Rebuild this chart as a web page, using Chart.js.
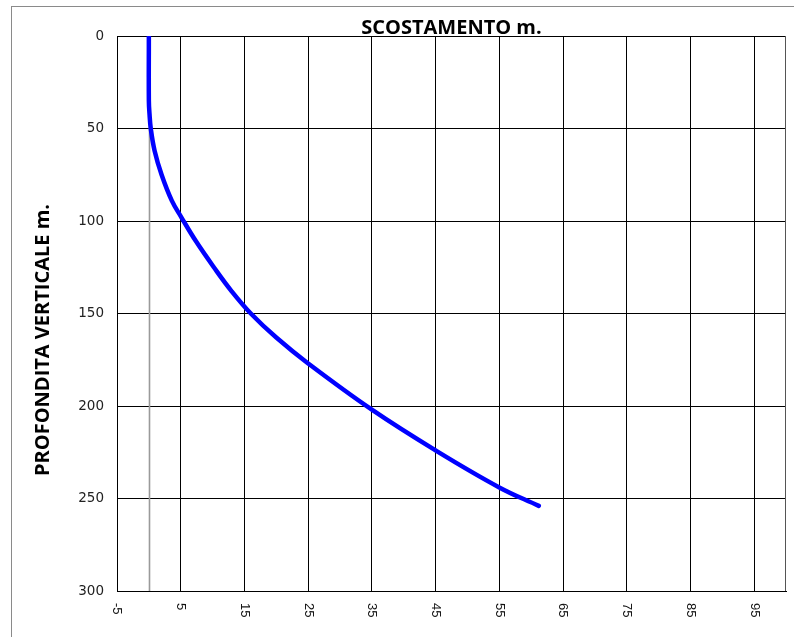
<!DOCTYPE html>
<html>
<head>
<meta charset="utf-8">
<script src="https://cdn.jsdelivr.net/npm/chart.js@4/dist/chart.umd.min.js"></script>
<style>
  html, body { margin: 0; padding: 0; background: #fff; }
  #wrap { width: 794px; height: 637px; position: relative; }
</style>
</head>
<body>
<div id="wrap"><canvas id="profileChart"></canvas></div>
<script>
// depth (m) and horizontal offset (m)
var depths  = [0, 35, 42, 50, 62, 75, 89, 98, 111, 125, 138, 150, 163, 177, 202, 224, 244, 254];
var offsets = [0, 0, 0.1, 0.3, 0.9, 2.0, 3.6, 5.1, 7.4, 10.2, 13.0, 16.0, 20.0, 25, 35, 45, 55, 61.2];
var xTicks  = [-5, 5, 15, 25, 35, 45, 55, 65, 75, 85, 95];
var yTicks  = [0, 50, 100, 150, 200, 250, 300];

var xTitle = "SCOSTAMENTO m.";
var yTitle = "PROFONDITA VERTICALE m.";

var points = depths.map(function (d, i) { return { x: offsets[i], y: d }; });

// frame, zero line, rotated x labels and both titles
var decor = {
  id: 'decor',
  beforeDraw: function (chart) {
    var c = chart.ctx;
    c.save();
    c.strokeStyle = '#8a8a8a';
    c.lineWidth = 1;
    c.strokeRect(11.5, 6.5, 820, 700);
    c.restore();
  },
  beforeDatasetsDraw: function (chart) {
    var c = chart.ctx, a = chart.chartArea, xs = chart.scales.x;
    c.save();
    // right border of plot
    c.strokeStyle = '#555';
    c.lineWidth = 1;
    c.beginPath();
    c.moveTo(Math.round(a.right) - 0.5, a.top);
    c.lineTo(Math.round(a.right) - 0.5, a.bottom);
    c.stroke();
    // grey zero line
    var x0 = Math.round(xs.getPixelForValue(0)) + 0.5;
    c.strokeStyle = '#9a9a9a';
    c.lineWidth = 1.6;
    c.beginPath();
    c.moveTo(x0, a.top);
    c.lineTo(x0, a.bottom);
    c.stroke();
    c.restore();
  },
  afterDraw: function (chart) {
    var c = chart.ctx, a = chart.chartArea, xs = chart.scales.x;
    c.save();
    c.fillStyle = '#111';
    c.font = '13px "Liberation Sans"';
    c.textAlign = 'left';
    c.textBaseline = 'middle';
    xTicks.forEach(function (v) {
      c.save();
      c.translate(xs.getPixelForValue(v), a.bottom + 12);
      c.rotate(Math.PI / 2);
      c.fillText(String(v), 0, 0);
      c.restore();
    });
    c.fillStyle = '#000';
    c.font = 'bold 20px "Open Sans"';
    c.textAlign = 'center';
    c.textBaseline = 'alphabetic';
    c.fillText(xTitle, (a.left + a.right) / 2, 34);
    c.save();
    c.translate(49, 340);
    c.rotate(-Math.PI / 2);
    c.fillText(yTitle, 0, 0);
    c.restore();
    c.restore();
  }
};

var ctx = document.getElementById('profileChart').getContext('2d');
var chart = new Chart(ctx, {
  type: 'scatter',
  data: {
    datasets: [{
      label: 'profilo',
      data: points,
      showLine: true,
      tension: 0.4,
      borderColor: '#0000ff',
      borderWidth: 4.5,
      borderCapStyle: 'round',
      borderJoinStyle: 'round',
      pointRadius: 0,
      pointHoverRadius: 0,
      fill: false
    }]
  },
  options: {
    responsive: true,
    maintainAspectRatio: false,
    animation: false,
    layout: { padding: { left: 0, top: 36, right: 8, bottom: 0 } },
    plugins: {
      legend: { display: false },
      tooltip: { enabled: false },
      title: { display: false }
    },
    scales: {
      x: {
        type: 'linear',
        min: -5,
        max: 100,
        afterBuildTicks: function (scale) {
          scale.ticks = xTicks.map(function (v) { return { value: v }; });
        },
        afterFit: function (scale) { scale.height = 46; },
        ticks: { display: false },
        grid: { color: '#000', lineWidth: 1, drawTicks: false },
        border: { color: '#000', width: 1 }
      },
      y: {
        type: 'linear',
        reverse: true,
        min: 0,
        max: 300,
        afterBuildTicks: function (scale) {
          scale.ticks = yTicks.map(function (v) { return { value: v }; });
        },
        afterFit: function (scale) { scale.width = 117; },
        ticks: {
          color: '#222',
          padding: 13,
          font: { family: 'DejaVu Sans', size: 13.5 }
        },
        grid: { color: '#000', lineWidth: 1, drawTicks: false },
        border: { color: '#000', width: 1 }
      }
    }
  },
  plugins: [decor]
});
</script>
</body>
</html>
